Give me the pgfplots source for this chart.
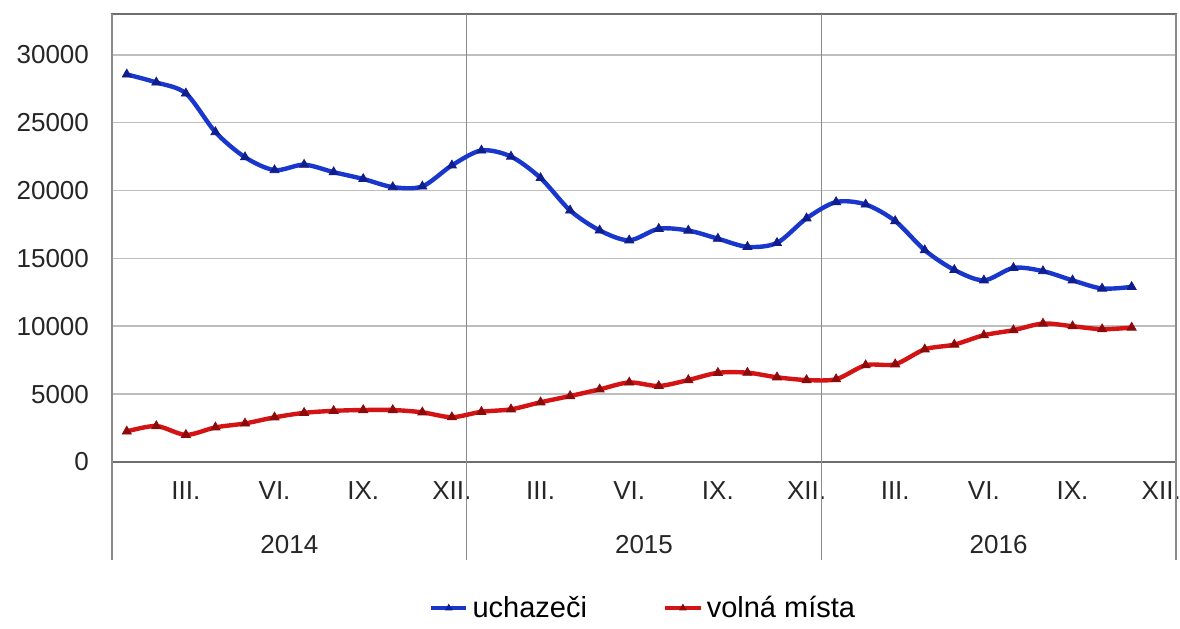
\documentclass[border=0pt]{standalone}
\usepackage{fontspec}
\setmainfont{Liberation Sans}
\usepackage{pgfplots}
\pgfplotsset{compat=1.18}
\definecolor{ublue}{RGB}{25,55,205}
\definecolor{ublueM}{RGB}{15,30,140}
\definecolor{vred}{RGB}{212,20,20}
\definecolor{vredM}{RGB}{140,10,10}
\definecolor{gridc}{RGB}{190,190,190}
\definecolor{framec}{RGB}{110,110,110}
\begin{document}
\begin{tikzpicture}
\begin{axis}[
  scale only axis, width=532pt, height=224pt,
  xmin=-0.5, xmax=35.5, ymin=0, ymax=33000,
  clip=false,
  ytick={0,5000,...,30000},
  scaled y ticks=false,
  /pgf/number format/1000 sep={},
  /pgf/number format/assume math mode=true,
  ymajorgrids, grid style={draw=gridc, line width=0.8pt},
  xtick={2,5,...,35},
  xticklabels={III.,VI.,IX.,XII.,III.,VI.,IX.,XII.,III.,VI.,IX.,XII.},
  major tick length=0pt,
  xtick pos=left,
  extra x ticks={-0.5,11.5,23.5,35.5},
  extra x tick labels={},
  extra x tick style={xmajorgrids=true, major grid style={draw=framec!80, line width=0.6pt}, tick align=outside, major tick length=49pt, tick style={draw=framec!80, line width=0.6pt}},
  axis line style={draw=framec, line width=0.7pt},
  tick label style={font=\fontsize{13}{15}\selectfont, text=black!85},
  yticklabel style={xshift=-8pt},
  xticklabel style={yshift=-6.5pt},
  legend style={at={(0.5,-0.326)}, anchor=center, draw=none, legend columns=2,
    font=\fontsize{14.5}{16}\selectfont,
    /tikz/every even column/.append style={column sep=36pt}},
  legend image code/.code={\draw[#1, line width=2.2pt] (0cm,0cm) -- (0.62cm,0cm); \draw[#1, mark size=1.8pt] plot coordinates {(0.31cm,0cm)};},
]
\addplot[ublue, line width=2.2pt, smooth, mark=triangle*, mark size=2.6pt, mark options={fill=ublueM, draw=ublueM, line width=0.4pt}] coordinates {
(0,28550) (1,27960) (2,27150) (3,24300) (4,22450) (5,21500) (6,21900) (7,21350) (8,20850) (9,20250) (10,20300) (11,21850)
(12,22950) (13,22500) (14,20920) (15,18530) (16,17060) (17,16330) (18,17180) (19,17050) (20,16450) (21,15850) (22,16140) (23,17950)
(24,19150) (25,18970) (26,17750) (27,15600) (28,14150) (29,13380) (30,14300) (31,14060) (32,13380) (33,12780) (34,12900)
};
\addlegendentry{uchazeči}
\addplot[vred, line width=2.2pt, smooth, mark=triangle*, mark size=2.6pt, mark options={fill=vredM, draw=vredM, line width=0.4pt}] coordinates {
(0,2250) (1,2650) (2,2000) (3,2550) (4,2840) (5,3290) (6,3620) (7,3770) (8,3830) (9,3830) (10,3660) (11,3300)
(12,3700) (13,3880) (14,4400) (15,4860) (16,5350) (17,5860) (18,5600) (19,6040) (20,6570) (21,6580) (22,6240) (23,6040)
(24,6100) (25,7130) (26,7200) (27,8300) (28,8650) (29,9340) (30,9710) (31,10200) (32,10000) (33,9780) (34,9900)
};
\addlegendentry{volná místa}
\node[font=\fontsize{13}{15}\selectfont, text=black!85] at (axis cs:5.5,0) [yshift=-41.5pt] {2014};
\node[font=\fontsize{13}{15}\selectfont, text=black!85] at (axis cs:17.5,0) [yshift=-41.5pt] {2015};
\node[font=\fontsize{13}{15}\selectfont, text=black!85] at (axis cs:29.5,0) [yshift=-41.5pt] {2016};
\end{axis}
\pgfresetboundingbox
\path (-56pt,-83pt) rectangle (534pt,231pt);
\end{tikzpicture}
\end{document}
